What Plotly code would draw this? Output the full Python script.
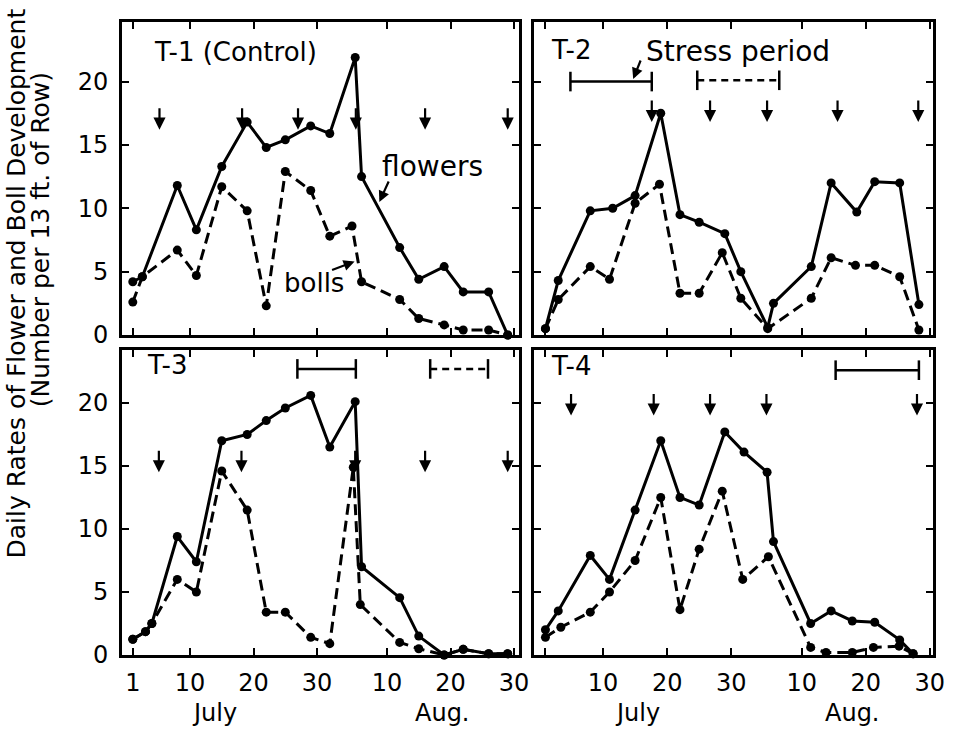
import plotly.graph_objects as go

# Day numbers counted from July 1 = 1 (Aug 1 = 32, Aug 30 = 61)
tick_days = [1, 10, 20, 30, 41, 51, 61]
tick_text_left = ["1", "10", "20", "30", "10", "20", "30"]
tick_text_right = ["", "10", "20", "30", "10", "20", "30"]
y_ticks = [0, 5, 10, 15, 20]

# T-1 (Control)
t1_flower_days = [1, 2.5, 8, 11, 15, 19, 22, 25, 29, 32, 36, 37, 43, 46, 50, 53, 57, 60]
t1_flower_vals = [4.2, 4.6, 11.8, 8.3, 13.3, 16.8, 14.8, 15.4, 16.5, 15.9, 21.9, 12.5, 6.9, 4.4, 5.4, 3.4, 3.4, 0]
t1_boll_days = [1, 2.5, 8, 11, 15, 19, 22, 25, 29, 32, 35.5, 37, 43, 46, 50, 53, 57, 60]
t1_boll_vals = [2.6, 4.6, 6.7, 4.7, 11.7, 9.8, 2.3, 12.9, 11.4, 7.8, 8.6, 4.2, 2.8, 1.3, 0.8, 0.4, 0.4, 0]
t1_arrow_days = [5.2, 18.2, 27, 36.1, 47, 60]

# T-2
t2_flower_days = [1, 3, 8, 11.5, 15, 19, 22, 25, 29, 31.5, 35.7, 36.6, 42.5, 45.6, 49.6, 52.4, 56.3, 59.3]
t2_flower_vals = [0.5, 4.3, 9.8, 10.0, 11.0, 17.5, 9.5, 8.9, 8.0, 5.0, 0.6, 2.5, 5.4, 12.0, 9.7, 12.1, 12.0, 2.4]
t2_boll_days = [1, 3, 8, 11, 15, 18.8, 22, 25, 28.6, 31.5, 35.7, 42.5, 45.6, 49.4, 52.4, 56.3, 59.3]
t2_boll_vals = [0.5, 2.8, 5.4, 4.4, 10.4, 11.9, 3.3, 3.3, 6.5, 2.9, 0.5, 2.9, 6.1, 5.5, 5.5, 4.6, 0.4]
t2_arrow_days = [17.6, 26.7, 35.6, 46.6, 59.2]
t2_stress_first = [4.9, 17.6]
t2_stress_second = [24.7, 37.5]

# T-3
t3_flower_days = [1, 3, 4, 8, 11, 15, 19, 22, 25, 29, 32, 36, 37, 43, 46, 50, 53, 57, 60]
t3_flower_vals = [1.25, 1.85, 2.5, 9.4, 7.4, 17.0, 17.5, 18.6, 19.6, 20.6, 16.5, 20.1, 7.0, 4.55, 1.5, 0, 0.45, 0.1, 0.1]
t3_boll_days = [1, 3, 4, 8, 11, 15, 19, 22, 25, 29, 32, 35.7, 36.8, 43, 46, 50, 53, 57, 60]
t3_boll_vals = [1.25, 1.85, 2.5, 6.0, 5.0, 14.6, 11.5, 3.4, 3.4, 1.4, 0.9, 14.9, 4.0, 1.0, 0.5, 0, 0.45, 0.1, 0.1]
t3_arrow_days = [5.1, 18.1, 36, 47, 60]
t3_stress_first = [26.9, 36.1]
t3_stress_second = [47.8, 56.9]

# T-4
t4_flower_days = [1, 3, 8, 11, 15, 19, 22, 25, 29, 32, 35.6, 36.6, 42.4, 45.6, 48.9, 52.4, 56.3, 58.4]
t4_flower_vals = [2.0, 3.5, 7.9, 6.0, 11.5, 17.0, 12.5, 11.9, 17.7, 16.1, 14.5, 9.0, 2.5, 3.5, 2.7, 2.6, 1.2, 0.1]
t4_boll_days = [1, 3.4, 8, 11, 15, 19, 22, 25, 28.6, 31.8, 35.8, 42.4, 44.8, 48.9, 52.2, 56.2, 58.4]
t4_boll_vals = [1.4, 2.2, 3.4, 5.0, 7.5, 12.5, 3.6, 8.4, 13.0, 6.0, 7.8, 0.6, 0.2, 0.2, 0.6, 0.7, 0.1]
t4_arrow_days = [5, 17.9, 26.7, 35.5, 59]
t4_stress_first = [46.3, 59.3]

FONT = "DejaVu Sans"
fig = go.Figure()

panels = [
    ("x", "y", t1_flower_days, t1_flower_vals, t1_boll_days, t1_boll_vals),
    ("x2", "y2", t2_flower_days, t2_flower_vals, t2_boll_days, t2_boll_vals),
    ("x3", "y3", t3_flower_days, t3_flower_vals, t3_boll_days, t3_boll_vals),
    ("x4", "y4", t4_flower_days, t4_flower_vals, t4_boll_days, t4_boll_vals),
]
for xa, ya, fd, fv, bd, bv in panels:
    fig.add_trace(go.Scatter(x=fd, y=fv, xaxis=xa, yaxis=ya, mode="lines+markers",
                             line=dict(color="black", width=3),
                             marker=dict(size=9, color="black"),
                             showlegend=False, cliponaxis=False, name="flowers"))
    fig.add_trace(go.Scatter(x=bd, y=bv, xaxis=xa, yaxis=ya, mode="lines+markers",
                             line=dict(color="black", width=3, dash="11px,6px"),
                             marker=dict(size=9, color="black"),
                             showlegend=False, cliponaxis=False, name="bolls"))

# stress period bars
stress = [
    ("x2", "y2", t2_stress_first, 20.0, "solid"),
    ("x2", "y2", t2_stress_second, 20.1, "7px,5px"),
    ("x3", "y3", t3_stress_first, 22.7, "solid"),
    ("x3", "y3", t3_stress_second, 22.7, "7px,5px"),
    ("x4", "y4", t4_stress_first, 22.6, "solid"),
]
for xa, ya, span, lvl, dash in stress:
    fig.add_trace(go.Scatter(x=span, y=[lvl, lvl], xaxis=xa, yaxis=ya, mode="lines+markers",
                             line=dict(color="black", width=2.5, dash=dash),
                             marker=dict(symbol="line-ns-open", size=14,
                                         line=dict(color="black", width=2.5)),
                             showlegend=False, cliponaxis=False))

annotations = []
arrow_sets = [("x", "y", t1_arrow_days, 16.2), ("x2", "y2", t2_arrow_days, 16.8),
              ("x3", "y3", t3_arrow_days, 14.5), ("x4", "y4", t4_arrow_days, 19.0)]
for xa, ya, days, tip in arrow_sets:
    for d in days:
        annotations.append(dict(x=d, y=tip, xref=xa, yref=ya, ax=0, ay=-23, text="",
                                showarrow=True, arrowhead=2, arrowsize=1.1, arrowwidth=2.2,
                                arrowcolor="black"))

def label(text, xa, ya, x, y, size=26, anchor="left"):
    annotations.append(dict(x=x, y=y, xref=xa, yref=ya, text=text, showarrow=False,
                            xanchor=anchor, yanchor="middle",
                            font=dict(family=FONT, size=size, color="black")))

label("T-1 (Control)", "x", "y", 4.0, 22.3, size=26)
label("T-2", "x2", "y2", 1.6, 22.5, size=26)
label("Stress period", "x2", "y2", 16.4, 22.4, size=28)
label("T-3", "x3", "y3", 2.9, 23.0, size=26)
label("T-4", "x4", "y4", 1.6, 22.9, size=26)
label("flowers", "x", "y", 48.1, 13.3, size=28, anchor="center")
label("bolls", "x", "y", 29.5, 4.1, size=26, anchor="center")

# pointer arrows
annotations.append(dict(x=39.8, y=10.5, xref="x", yref="y", ax=10, ay=-22, text="",
                        showarrow=True, arrowhead=2, arrowsize=1, arrowwidth=2.2, arrowcolor="black"))
annotations.append(dict(x=35.9, y=5.8, xref="x", yref="y", ax=-24, ay=9, text="",
                        showarrow=True, arrowhead=2, arrowsize=1, arrowwidth=2.2, arrowcolor="black"))
annotations.append(dict(x=14.7, y=20.2, xref="x2", yref="y2", ax=8, ay=-20, text="",
                        showarrow=True, arrowhead=2, arrowsize=1, arrowwidth=2.2, arrowcolor="black"))

# y-axis title lines
L, B, PW, PH = 122, 75, 823, 633
def paper_x(px):
    return (px - L) / PW
def paper_y(py):
    return (730 - B - py) / PH

# month labels
for xa, d, t in [("x3", 13.9, "July"), ("x3", 49.8, "Aug."), ("x4", 15.4, "July"), ("x4", 49.0, "Aug.")]:
    annotations.append(dict(x=d, y=paper_y(713), xref=xa, yref="paper", text=t, showarrow=False,
                            xanchor="center", yanchor="middle", borderpad=0,
                            font=dict(family=FONT, size=24, color="black")))

annotations.append(dict(x=paper_x(14), y=paper_y(284), xref="paper", yref="paper",
                        text="Daily Rates of Flower and Boll Development", textangle=-90,
                        showarrow=False, xanchor="center", yanchor="middle",
                        font=dict(family=FONT, size=25, color="black")))
annotations.append(dict(x=paper_x(40), y=paper_y(240), xref="paper", yref="paper",
                        text="(Number per 13 ft. of Row)", textangle=-90,
                        showarrow=False, xanchor="center", yanchor="middle",
                        font=dict(family=FONT, size=25, color="black")))

axis_common = dict(showline=True, linewidth=3, linecolor="black", mirror="ticks",
                   ticks="inside", ticklen=7, tickwidth=2.2, tickcolor="black",
                   showgrid=False, zeroline=False,
                   tickfont=dict(family=FONT, size=24, color="black"))

xl = [0, 0.4897]
xr = [0.5079, 1]
yt = [0.5055, 1]
yb = [0, 0.4818]
fig.update_layout(
    width=956, height=730,
    margin=dict(l=L, r=11, t=22, b=B),
    paper_bgcolor="white", plot_bgcolor="white",
    showlegend=False,
    xaxis=dict(domain=xl, anchor="y", range=[-0.7, 61.8], tickvals=tick_days,
               ticktext=tick_text_left, showticklabels=False, **axis_common),
    yaxis=dict(domain=yt, anchor="x", range=[0, 24.7], tickvals=y_ticks, ticklabelstandoff=6, **axis_common),
    xaxis2=dict(domain=xr, anchor="y2", range=[-0.8, 61.5], tickvals=tick_days,
                ticktext=tick_text_right, showticklabels=False, **axis_common),
    yaxis2=dict(domain=yt, anchor="x2", range=[0, 24.7], tickvals=y_ticks,
                showticklabels=False, **axis_common),
    xaxis3=dict(domain=xl, anchor="y3", range=[-0.7, 61.8], tickvals=tick_days,
                ticktext=tick_text_left, ticklabelstandoff=4, **axis_common),
    yaxis3=dict(domain=yb, anchor="x3", range=[0, 24.2], tickvals=y_ticks, ticklabelstandoff=6, **axis_common),
    xaxis4=dict(domain=xr, anchor="y4", range=[-0.8, 61.5], tickvals=tick_days,
                ticktext=tick_text_right, ticklabelstandoff=4, **axis_common),
    yaxis4=dict(domain=yb, anchor="x4", range=[0, 24.2], tickvals=y_ticks,
                showticklabels=False, **axis_common),
    annotations=annotations,
)

fig.write_html("out.html", config={"displayModeBar": False},
               post_script="document.body.style.margin='0';")
